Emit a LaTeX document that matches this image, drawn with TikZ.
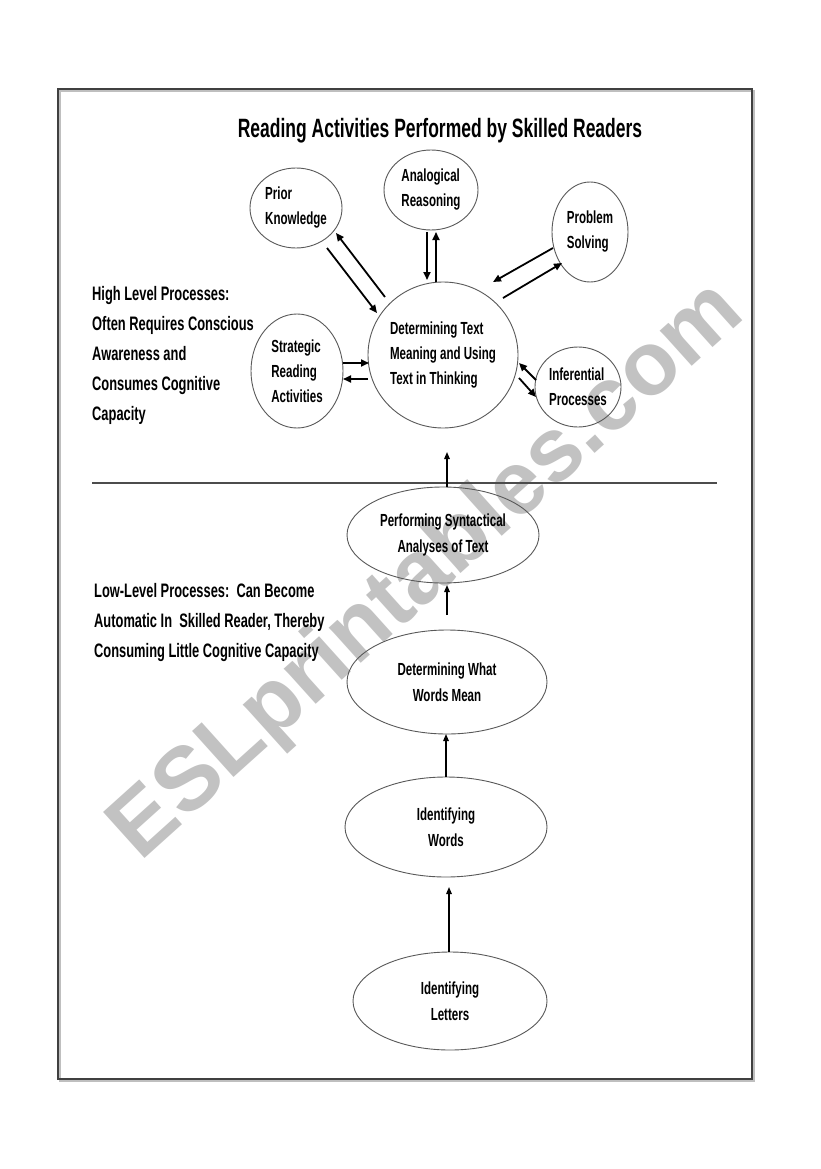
\documentclass[tikz,border=0pt]{standalone}
\usepackage{fontspec}
\setmainfont{Liberation Sans}
\newfontfamily\nar[FakeStretch=0.66]{Liberation Sans}
\usetikzlibrary{arrows.meta,shapes.geometric}
\tikzset{
  circ/.style={ellipse, draw=black!65, line width=0.9pt, inner sep=0pt, align=left,
    font=\nar\bfseries\fontsize{17.5}{25}\selectfont},
  oval/.style={ellipse, draw=black!65, line width=0.9pt, inner sep=0pt, align=center,
    font=\nar\bfseries\fontsize{17.5}{26}\selectfont},
  arr/.style={line width=1.8pt, -{Triangle[length=8pt,width=7pt]}},
  arrs/.style={line width=1.4pt, -{Triangle[length=7pt,width=5.5pt]}},
  side/.style={anchor=north west, inner sep=0pt, align=left,
    font=\nar\bfseries\fontsize{19.5}{30}\selectfont},
  wmark/.style={text=black!24, font=\bfseries\fontsize{90}{90}\selectfont, inner sep=0pt},
}
\begin{document}
\begin{tikzpicture}[x=1pt,y=-1pt]
\useasboundingbox (0,0) rectangle (821,1169);
\fill[white] (0,0) rectangle (821,1169);
% watermark
\node[wmark, rotate=42] (wm) at (428,572) {ESLprintables.com};
% frame
\draw[black!25, line width=1.5pt] (60,91) rectangle (754,1081);
\draw[black!75, line width=2pt] (58,89) rectangle (752,1079);
% divider
\coordinate (dl) at (92,483);
\coordinate (dr) at (717,483);
\draw[black!70, line width=1.2pt] (dl) -- (dr);
% title
\node[font=\nar\bfseries\fontsize{26.5}{30}\selectfont, inner sep=0pt] (title) at (440,131)
  {Reading Activities Performed by Skilled Readers};
% side texts
\node[side] (high) at (92,286) {High Level Processes:\\Often Requires Conscious\\Awareness and\\Consumes Cognitive\\Capacity};
\node[side] (low) at (94,583) {Low-Level Processes:\ \ Can Become\\Automatic In\ \ Skilled Reader, Thereby\\Consuming Little Cognitive Capacity};
% upper nodes
\node[circ, minimum width=92pt, minimum height=80pt] (pk) at (296,208) {Prior\\Knowledge};
\node[circ, minimum width=94pt, minimum height=80pt] (ar) at (431,190) {Analogical\\Reasoning};
\node[circ, minimum width=76pt, minimum height=100pt] (ps) at (590,232) {Problem\\Solving};
\node[circ, minimum width=150pt, minimum height=146pt] (c) at (443,355) {Determining Text\\Meaning and Using\\Text in Thinking};
\node[circ, minimum width=92pt, minimum height=114pt] (sr) at (297,371) {Strategic\\Reading\\Activities};
\node[circ, minimum width=86pt, minimum height=80pt] (ip) at (578,387) {Inferential\\Processes};
% lower nodes
\node[oval, minimum width=192pt, minimum height=96pt] (pa) at (443,535) {Performing Syntactical\\Analyses of Text};
\node[oval, minimum width=200pt, minimum height=104pt] (dw) at (447,682) {Determining What\\Words Mean};
\node[oval, minimum width=202pt, minimum height=100pt] (iw) at (446,827) {Identifying\\Words};
\node[oval, minimum width=194pt, minimum height=98pt] (il) at (450,1001) {Identifying\\Letters};
% upper arrows
\draw[arr] ([shift={(31,40)}]pk.center) -- ([shift={(-66,-42)}]c.center);
\draw[arr] ([shift={(-58,-58)}]c.center) -- ([shift={(40,25)}]pk.center);
\draw[arr] ([shift={(-4,42)}]ar.center) -- ([shift={(-16,-75)}]c.center);
\draw[arr] ([shift={(-7,-73)}]c.center) -- ([shift={(5,42)}]ar.center);
\draw[arr] ([shift={(-37,16)}]ps.center) -- ([shift={(50,-73)}]c.center);
\draw[arr] ([shift={(60,-57)}]c.center) -- ([shift={(-28,31)}]ps.center);
\draw[arr] ([shift={(46,-8)}]sr.center) -- ([shift={(-74,8)}]c.center);
\draw[arr] ([shift={(-75,24)}]c.center) -- ([shift={(46,8)}]sr.center);
\draw[arr] ([shift={(-42,-7)}]ip.center) -- ([shift={(76,8)}]c.center);
\draw[arr] ([shift={(76,23)}]c.center) -- ([shift={(-42,10)}]ip.center);
% lower arrows
\draw[arrs] ([shift={(4,-48)}]pa.center) -- ([shift={(4,97)}]c.center);
\draw[arrs] ([shift={(0,-67)}]dw.center) -- ([shift={(4,50)}]pa.center);
\draw[arrs] ([shift={(0,-50)}]iw.center) -- ([shift={(-1,52)}]dw.center);
\draw[arrs] ([shift={(-1,-49)}]il.center) -- ([shift={(3,60)}]iw.center);
\end{tikzpicture}
\end{document}
